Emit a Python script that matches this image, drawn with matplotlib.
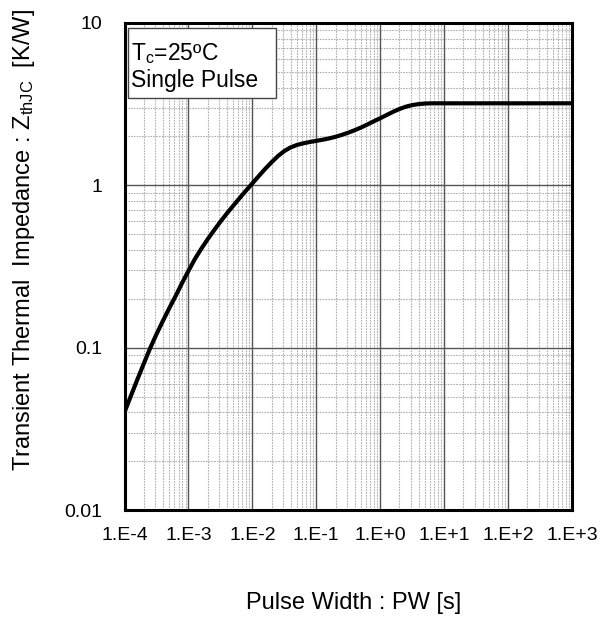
import numpy as np
import matplotlib as mpl
import matplotlib.pyplot as plt
from matplotlib.patches import Rectangle
from matplotlib.ticker import FixedLocator, LogLocator, NullFormatter

# curve (single pulse, Tc = 25 C)
# pulse width given as log10(PW [s])
log_pw = [-4.0, -3.9, -3.8, -3.7, -3.6, -3.5, -3.4, -3.3, -3.2, -3.1,
          -3.0, -2.9, -2.8, -2.7, -2.6, -2.5, -2.4, -2.3, -2.2, -2.1,
          -2.0, -1.9, -1.8, -1.7, -1.6, -1.5, -1.4, -1.3, -1.2, -1.1,
          -1.0, -0.9, -0.8, -0.7, -0.6, -0.5, -0.4, -0.3, -0.2, -0.1,
          0.0, 0.1, 0.2, 0.3, 0.4, 0.5, 0.6, 0.7, 0.8, 1.0, 3.0]
zth = [0.040, 0.0505, 0.0635, 0.0795, 0.099, 0.121, 0.146, 0.175, 0.208,
       0.250, 0.297, 0.351, 0.406, 0.465, 0.528, 0.597, 0.670, 0.748, 0.834,
       0.927, 1.028, 1.140, 1.262, 1.387, 1.514, 1.626, 1.714, 1.774, 1.816,
       1.849, 1.879, 1.910, 1.945, 1.990, 2.045, 2.110, 2.185, 2.270, 2.370,
       2.480, 2.590, 2.710, 2.835, 2.950, 3.050, 3.120, 3.165, 3.190, 3.200,
       3.200, 3.200]

x_ticks = [1e-4, 1e-3, 1e-2, 1e-1, 1e0, 1e1, 1e2, 1e3]
x_tick_labels = ['1.E-4', '1.E-3', '1.E-2', '1.E-1', '1.E+0', '1.E+1',
                 '1.E+2', '1.E+3']
y_ticks = [0.01, 0.1, 1, 10]
y_tick_labels = ['0.01', '0.1', '1', '10']

mpl.rcParams['font.family'] = ['Liberation Sans', 'DejaVu Sans']
mpl.rcParams['mathtext.fontset'] = 'custom'
mpl.rcParams['mathtext.rm'] = 'Liberation Sans'
mpl.rcParams['mathtext.it'] = 'Liberation Sans'

fig = plt.figure(figsize=(6.0, 6.21), dpi=100)
axes = fig.add_axes([0.2075, 0.1787, 0.7458, 0.7843])

axes.set_xscale('log')
axes.set_yscale('log')
axes.set_xlim(1e-4, 1e3)
axes.set_ylim(0.01, 10)

axes.xaxis.set_major_locator(FixedLocator(x_ticks))
axes.yaxis.set_major_locator(FixedLocator(y_ticks))
axes.set_xticklabels(x_tick_labels)
axes.set_yticklabels(y_tick_labels)
axes.xaxis.set_minor_locator(LogLocator(base=10, subs=np.arange(2, 10)))
axes.yaxis.set_minor_locator(LogLocator(base=10, subs=np.arange(2, 10)))
axes.xaxis.set_minor_formatter(NullFormatter())
axes.yaxis.set_minor_formatter(NullFormatter())

axes.grid(which='major', color='#555555', lw=1.0, ls='-')
axes.grid(which='minor', color='#b0b0b0', lw=0.8, ls=(0, (1.5, 1.0)))
axes.set_axisbelow(True)

axes.tick_params(which='both', length=0, labelsize=14, colors='black')
axes.tick_params(axis='x', pad=12)
axes.tick_params(axis='y', pad=16)

for spine in axes.spines.values():
    spine.set_linewidth(2.2)
    spine.set_color('black')

pulse_width = 10.0 ** np.array(log_pw)
axes.plot(pulse_width, zth, lw=3.0, color='black', solid_capstyle='butt',
          solid_joinstyle='round', zorder=5)

# condition box
axes.add_patch(Rectangle((0.0085, 0.845), 0.331, 0.1437,
                         transform=axes.transAxes, fc='white',
                         ec='#444444', lw=1.0, zorder=6))
axes.text(0.0145, 0.924, '$\\mathregular{T_c}$=25ºC',
          transform=axes.transAxes, ha='left', va='baseline', fontsize=16.5,
          zorder=7)
axes.text(0.0145, 0.869, 'Single Pulse',
          transform=axes.transAxes, ha='left', va='baseline', fontsize=16.5,
          zorder=7)

fig.text(0.040, 0.613,
         'Transient Thermal  Impedance : $\\mathregular{Z_{thJC}}$  [K/W]',
         rotation=90, ha='center', va='center', fontsize=17)
fig.text(0.59, 0.029, 'Pulse Width : PW [s]', ha='center', va='center',
         fontsize=17)

fig.savefig('out.png', dpi=100)
plt.close(fig)
